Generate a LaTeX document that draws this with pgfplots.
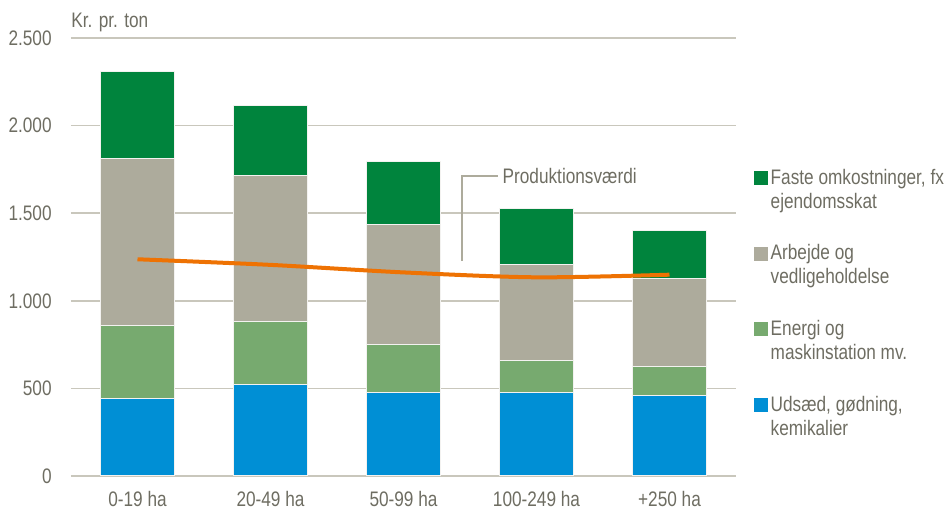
\documentclass[border=0pt]{standalone}
\usepackage{fontspec}
\setmainfont{Liberation Sans}[FakeStretch=0.82]
\usepackage{pgfplots}
\pgfplotsset{compat=1.18}
\definecolor{cDark}{HTML}{00843D}
\definecolor{cGray}{HTML}{ADAB9C}
\definecolor{cGreen}{HTML}{77AA6F}
\definecolor{cBlue}{HTML}{008FD5}
\definecolor{cOrange}{HTML}{EE7203}
\definecolor{cText}{HTML}{6E6D62}
\definecolor{cGrid}{HTML}{C9C7BC}
\begin{document}
\begin{tikzpicture}[font=\fontsize{10.5}{12}\selectfont]
\begin{axis}[
  at={(0,0)}, anchor=south west, scale only axis,
  width=332.5pt, height=219pt,
  ybar stacked, bar width=37pt,
  xmin=-0.5, xmax=4.5, ymin=0, ymax=2500,
  xtick={0,1,2,3,4},
  xticklabels={0-19 ha,20-49 ha,50-99 ha,100-249 ha,+250 ha},
  ytick={0,500,1000,1500,2000,2500},
  ymajorgrids, grid style={cGrid, line width=0.75pt},
  axis line style={draw=none},
  major tick length=0pt,
  tick label style={text=cText, font=\fontsize{10.5}{12}\selectfont},
  yticklabel style={anchor=east, inner sep=0pt, xshift=-9.5pt},
  xticklabel style={anchor=north, inner sep=0pt, yshift=-7.5pt},
  /pgf/number format/.cd, 1000 sep={.}, assume math mode=true, /pgfplots/.cd,
  legend style={at={(1.017,0.72)}, anchor=north west, draw=none, fill=none,
    cells={anchor=west, align=left}, row sep=12.7pt, text=cText,
    nodes={inner xsep=1.5pt},
    font=\fontsize{10.5}{12}\selectfont},
  reverse legend,
  legend image code/.code={\fill[#1,draw=none,overlay] (0pt,2.5pt) rectangle (7pt,9.5pt);
    \path[fill=none,draw=none] (0pt,-3.5pt) rectangle (7pt,3.5pt);},
  every axis plot/.append style={draw=white!85!cGray, line width=0.5pt},
]
\addplot[fill=cBlue] coordinates {(0,445) (1,521) (2,476) (3,476) (4,462)};
\addplot[fill=cGreen] coordinates {(0,413) (1,360) (2,274) (3,182) (4,162)};
\addplot[fill=cGray] coordinates {(0,957) (1,835) (2,685) (3,548) (4,501)};
\addplot[fill=cDark] coordinates {(0,491) (1,400) (2,361) (3,320) (4,275)};
\legend{{Udsæd, gødning,\\kemikalier},{Energi og\\maskinstation mv.},{Arbejde og\\vedligeholdelse},{Faste omkostninger, fx\\ejendomsskat}}
\end{axis}
\begin{axis}[
  at={(0,0)}, anchor=south west, scale only axis,
  width=332.5pt, height=219pt,
  xmin=-0.5, xmax=4.5, ymin=0, ymax=2500,
  hide axis, clip=false,
]
\addplot[cOrange, line width=2pt, smooth, no markers] coordinates {(0,1237) (1,1205) (2,1162) (3,1134) (4,1149)};
\draw[cGray, line width=0.75pt] (axis cs:2.44,1227) |- (axis cs:2.71,1712)
  node[right, text=cText, inner sep=2pt] {Produktionsværdi};
\node[anchor=west, inner sep=0pt, text=cText] at ([yshift=8pt]rel axis cs:0,1) {Kr. pr. ton};
\end{axis}
\pgfresetboundingbox
\path (-35.5pt,-18.5pt) rectangle (439pt,238pt);
\end{tikzpicture}
\end{document}
